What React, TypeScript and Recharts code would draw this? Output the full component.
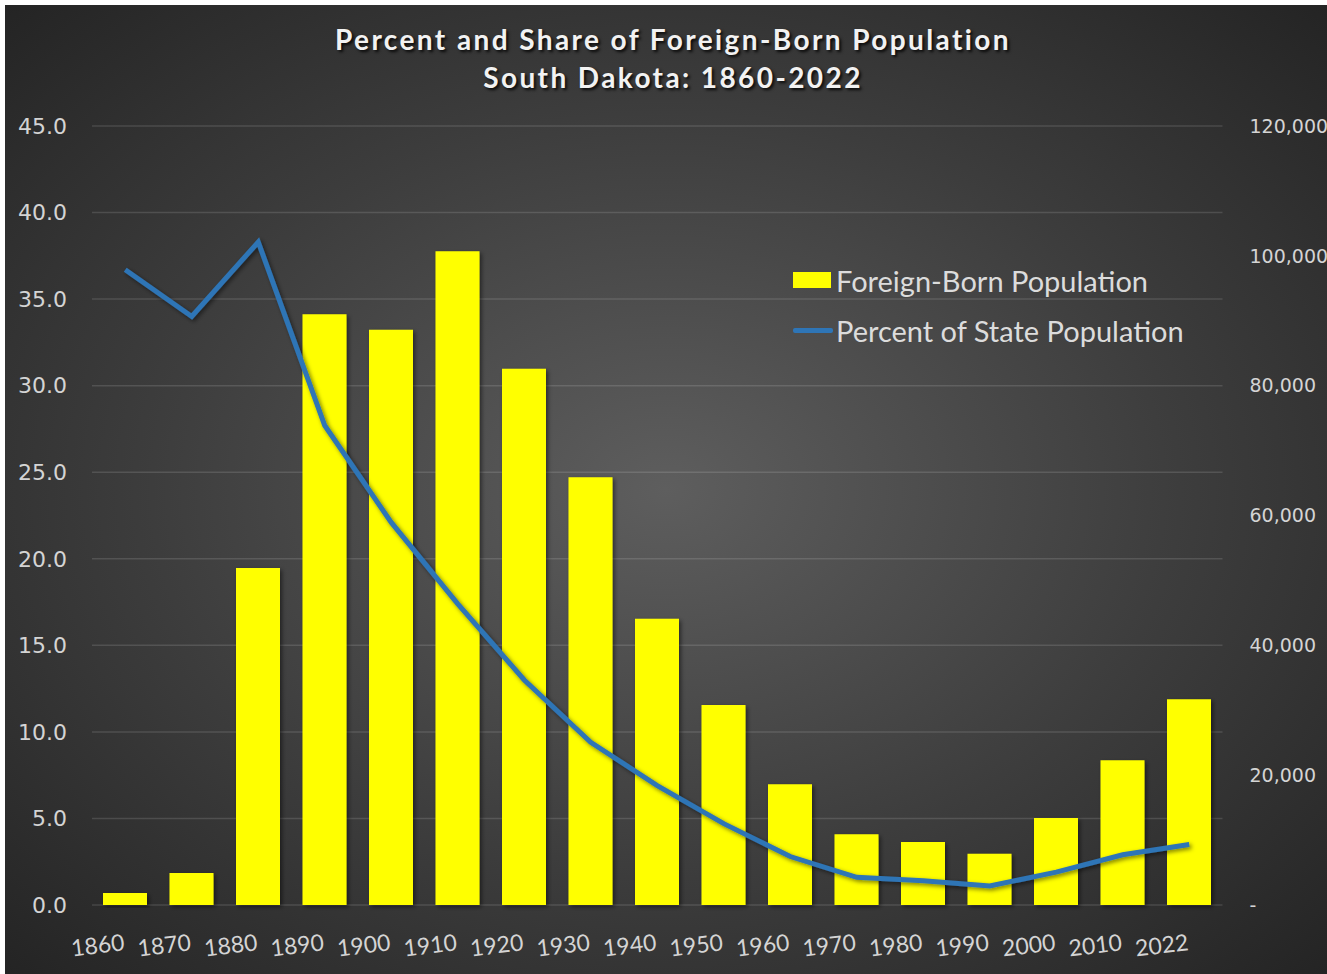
import {
  Bar,
  CartesianGrid,
  ComposedChart,
  Legend,
  Line,
  XAxis,
  YAxis,
} from "recharts";

const YEARS = [
  "1860", "1870", "1880", "1890", "1900", "1910", "1920", "1930", "1940",
  "1950", "1960", "1970", "1980", "1990", "2000", "2010", "2022",
];
const FOREIGN_BORN = [
  1850, 4930, 51900, 91000, 88600, 100700, 82600, 65900, 44100,
  30800, 18600, 10900, 9700, 7900, 13400, 22300, 31700,
];
const PERCENT_OF_STATE = [
  36.7, 34.0, 38.3, 27.7, 22.1, 17.4, 13.0, 9.4, 6.9,
  4.7, 2.8, 1.6, 1.4, 1.1, 1.9, 2.9, 3.5,
];
const PERCENT_TICKS = [0, 5, 10, 15, 20, 25, 30, 35, 40, 45];
const COUNT_TICKS = [0, 20000, 40000, 60000, 80000, 100000, 120000];

const data = YEARS.map((year, i) => ({
  year,
  foreignBorn: FOREIGN_BORN[i],
  percent: PERCENT_OF_STATE[i],
}));

const AXIS_TEXT = "#d4d4d4";

function YearTick({ x, y, payload }: any) {
  const ty = y + 45;
  return (
    <text
      x={x}
      y={ty}
      transform={`rotate(-7, ${x}, ${ty})`}
      textAnchor="end"
      fill={AXIS_TEXT}
      fontFamily="Lato, sans-serif"
      fontSize={23}
    >
      {payload.value}
    </text>
  );
}

function LegendBox({ payload }: any) {
  return (
    <div style={{ fontFamily: "Lato, sans-serif", fontSize: 29, color: "#dcdcdc" }}>
      {(payload || []).map((p: any) => (
        <div key={p.value} style={{ display: "flex", alignItems: "center", height: 50 }}>
          {p.type === "line" ? (
            <span style={{ width: 40, height: 5, background: p.color, borderRadius: 2, marginRight: 3 }} />
          ) : (
            <span style={{ width: 38, height: 16, background: p.color, marginRight: 5 }} />
          )}
          <span>{p.value}</span>
        </div>
      ))}
    </div>
  );
}

export default function App() {
  return (
    <div
      style={{
        position: "absolute",
        left: 5,
        top: 5,
        width: 1322,
        height: 969,
        overflow: "hidden",
        background:
          "radial-gradient(ellipse at 50% 50%, #5e5e5e 0%, #3d3d3d 55%, #242424 100%)",
      }}
    >
      <div
        style={{
          position: "absolute",
          left: 0,
          top: 15,
          width: 1336,
          textAlign: "center",
          fontFamily: "Lato, sans-serif",
          fontWeight: 700,
          fontSize: 28,
          letterSpacing: 2.4,
          lineHeight: "38px",
          color: "#f2f2f2",
          textShadow: "2px 2px 3px rgba(0,0,0,0.85)",
        }}
      >
        <div>Percent and Share of Foreign-Born Population</div>
        <div>South Dakota: 1860-2022</div>
      </div>
      <ComposedChart
        width={1322}
        height={969}
        data={data}
        margin={{ top: 121, right: 0, left: 0, bottom: 9 }}
        barSize={44}
        style={{ position: "absolute", left: 0, top: 0 }}
      >
        <defs>
          <filter id="shadow" x="-10%" y="-10%" width="130%" height="130%">
            <feDropShadow dx="2" dy="2" stdDeviation="2" floodColor="#000" floodOpacity="0.5" />
          </filter>
        </defs>
        <CartesianGrid
          yAxisId="left"
          vertical={false}
          stroke="rgba(255,255,255,0.13)"
          strokeWidth={1.5}
        />
        <XAxis
          dataKey="year"
          interval={0}
          tickLine={false}
          axisLine={false}
          tickSize={0}
          tickMargin={0}
          height={60}
          tick={<YearTick />}
        />
        <YAxis
          yAxisId="left"
          orientation="left"
          domain={[0, 45]}
          ticks={PERCENT_TICKS}
          width={87}
          tickLine={false}
          axisLine={false}
          tickSize={0}
          tickMargin={25}
          tickFormatter={(v: number) => v.toFixed(1)}
          tick={{ fill: AXIS_TEXT, fontSize: 22, fontFamily: "DejaVu Sans, sans-serif" }}
        />
        <YAxis
          yAxisId="right"
          orientation="right"
          domain={[0, 120000]}
          ticks={COUNT_TICKS}
          width={104.5}
          tickLine={false}
          axisLine={false}
          tickSize={0}
          tickMargin={27}
          tickFormatter={(v: number) => (v === 0 ? "-" : v.toLocaleString("en-US"))}
          tick={{ fill: AXIS_TEXT, fontSize: 19, fontFamily: "DejaVu Sans, sans-serif" }}
        />
        <Legend
          layout="vertical"
          align="center"
          verticalAlign="middle"
          content={<LegendBox />}
          wrapperStyle={{ left: 788, top: 250, width: 440 }}
        />
        <Bar
          yAxisId="right"
          dataKey="foreignBorn"
          name="Foreign-Born Population"
          fill="#ffff00"
          filter="url(#shadow)"
          isAnimationActive={false}
        />
        <Line
          yAxisId="left"
          dataKey="percent"
          name="Percent of State Population"
          type="linear"
          stroke="#2e75b6"
          strokeWidth={5}
          dot={false}
          activeDot={false}
          filter="url(#shadow)"
          isAnimationActive={false}
        />
      </ComposedChart>
    </div>
  );
}
